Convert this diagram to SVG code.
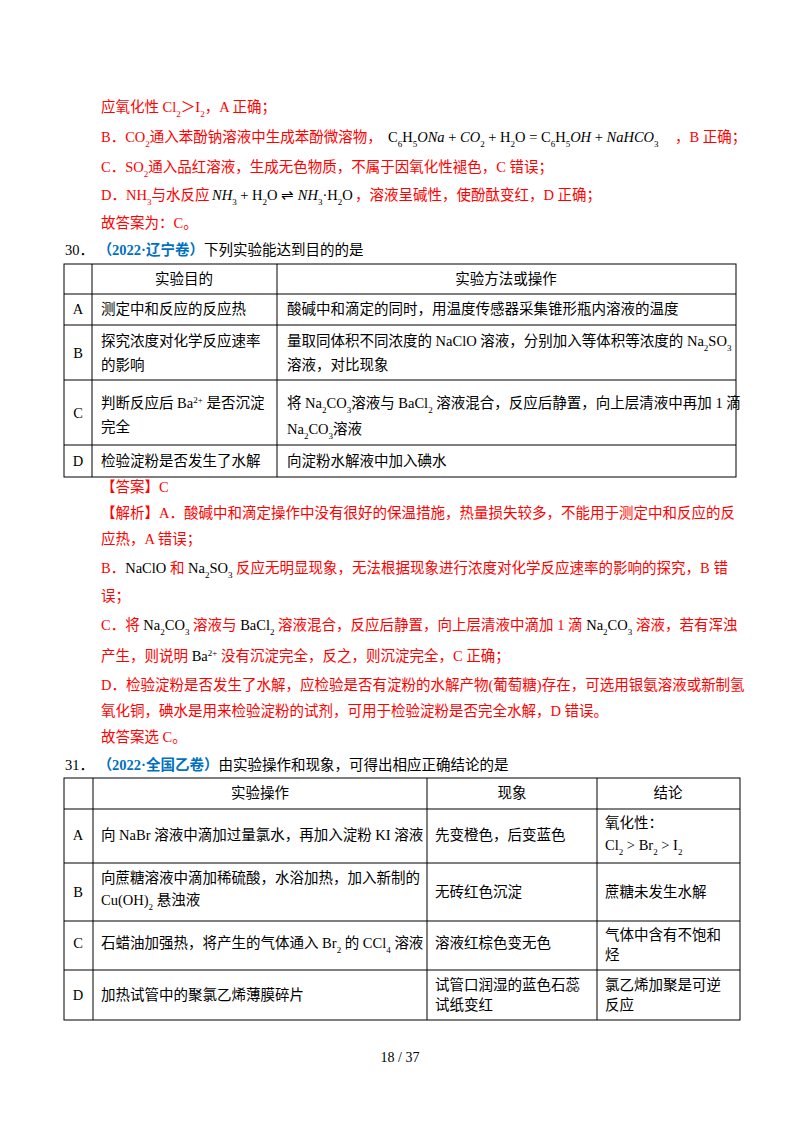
<svg xmlns="http://www.w3.org/2000/svg" width="800" height="1132" viewBox="0 0 800 1132">
<style>
text{font-family:"Liberation Serif","Noto Sans CJK SC",serif;font-size:14.5px;fill:#000}
.r{fill:#ff0000}
.b{fill:#0070c0;font-weight:bold}
.f{font-family:"Liberation Serif",serif;fill:#000}
.i{font-style:italic}
.s{font-size:9px}
.c{text-anchor:middle}
.ln{stroke:#000;stroke-width:1;fill:none}
</style>
<rect width="800" height="1132" fill="#fff"/>
<g id="part29">
<text class="r" x="101" y="112">应氧化性 Cl<tspan class="s" baseline-shift="sub">2</tspan>＞I<tspan class="s" baseline-shift="sub">2</tspan>，A 正确；</text>
<text class="r" x="101" y="142">B．CO<tspan class="s" baseline-shift="sub">2</tspan>通入苯酚钠溶液中生成苯酚微溶物，</text>
<text class="f" x="388" y="142">C<tspan class="s" baseline-shift="sub">6</tspan>H<tspan class="s" baseline-shift="sub">5</tspan><tspan class="i">ONa</tspan> + <tspan class="i">CO</tspan><tspan class="s" baseline-shift="sub">2</tspan> + H<tspan class="s" baseline-shift="sub">2</tspan>O = C<tspan class="s" baseline-shift="sub">6</tspan>H<tspan class="s" baseline-shift="sub">5</tspan><tspan class="i">OH</tspan> + <tspan class="i">NaHCO</tspan><tspan class="s" baseline-shift="sub">3</tspan></text>
<text class="r" x="675" y="142">，B 正确；</text>
<text class="r" x="101" y="172">C．SO<tspan class="s" baseline-shift="sub">2</tspan>通入品红溶液，生成无色物质，不属于因氧化性褪色，C 错误；</text>
<text class="r" x="101" y="200">D．NH<tspan class="s" baseline-shift="sub">3</tspan>与水反应</text>
<text class="f" x="212" y="200"><tspan class="i">NH</tspan><tspan class="s" baseline-shift="sub">3</tspan> + H<tspan class="s" baseline-shift="sub">2</tspan>O ⇌ <tspan class="i">NH</tspan><tspan class="s" baseline-shift="sub">3</tspan>·H<tspan class="s" baseline-shift="sub">2</tspan>O</text>
<text class="r" x="355" y="200">，溶液呈碱性，使酚酞变红，D 正确；</text>
<text class="r" x="101" y="228">故答案为：C。</text>
</g>
<g id="q30">
<text x="65" y="255">30． <tspan class="b">（2022·辽宁卷）</tspan>下列实验能达到目的的是</text>
</g>
<g id="table30">
<rect class="ln" x="64" y="264" width="672" height="213"/>
<path class="ln" d="M92 264V477M277 264V477M64 294H736M64 325H736M64 380H736M64 445H736"/>
<text class="c" x="184" y="284">实验目的</text>
<text class="c" x="506" y="284">实验方法或操作</text>
<text class="c" x="78" y="314">A</text>
<text x="101" y="314">测定中和反应的反应热</text>
<text x="287" y="314">酸碱中和滴定的同时，用温度传感器采集锥形瓶内溶液的温度</text>
<text class="c" x="78" y="358">B</text>
<text x="101" y="346">探究浓度对化学反应速率</text>
<text x="101" y="370">的影响</text>
<text x="287" y="346">量取同体积不同浓度的 NaClO 溶液，分别加入等体积等浓度的 Na<tspan class="s" baseline-shift="sub">2</tspan>SO<tspan class="s" baseline-shift="sub">3</tspan></text>
<text x="287" y="370">溶液，对比现象</text>
<text class="c" x="78" y="418">C</text>
<text x="101" y="408">判断反应后 Ba<tspan class="s" baseline-shift="super">2+</tspan> 是否沉淀</text>
<text x="101" y="432">完全</text>
<text x="287" y="408">将 Na<tspan class="s" baseline-shift="sub">2</tspan>CO<tspan class="s" baseline-shift="sub">3</tspan>溶液与 BaCl<tspan class="s" baseline-shift="sub">2</tspan> 溶液混合，反应后静置，向上层清液中再加 1 滴</text>
<text x="287" y="434">Na<tspan class="s" baseline-shift="sub">2</tspan>CO<tspan class="s" baseline-shift="sub">3</tspan>溶液</text>
<text class="c" x="78" y="466">D</text>
<text x="101" y="466">检验淀粉是否发生了水解</text>
<text x="287" y="466">向淀粉水解液中加入碘水</text>
</g>
<g id="answer30">
<text class="r" x="101" y="492">【答案】C</text>
<text class="r" x="101" y="518">【解析】A．酸碱中和滴定操作中没有很好的保温措施，热量损失较多，不能用于测定中和反应的反</text>
<text class="r" x="101" y="544">应热，A 错误；</text>
<text class="r" x="101" y="573">B．<tspan class="f">NaClO</tspan> 和 <tspan class="f">Na<tspan class="s" baseline-shift="sub">2</tspan>SO<tspan class="s" baseline-shift="sub">3</tspan></tspan> 反应无明显现象，无法根据现象进行浓度对化学反应速率的影响的探究，B 错</text>
<text class="r" x="101" y="601">误；</text>
<text class="r" x="101" y="630">C．将 <tspan class="f">Na<tspan class="s" baseline-shift="sub">2</tspan>CO<tspan class="s" baseline-shift="sub">3</tspan></tspan> 溶液与 <tspan class="f">BaCl<tspan class="s" baseline-shift="sub">2</tspan></tspan> 溶液混合，反应后静置，向上层清液中滴加 1 滴 <tspan class="f">Na<tspan class="s" baseline-shift="sub">2</tspan>CO<tspan class="s" baseline-shift="sub">3</tspan></tspan> 溶液，若有浑浊</text>
<text class="r" x="101" y="661">产生，则说明 <tspan class="f">Ba<tspan class="s" baseline-shift="super">2+</tspan></tspan> 没有沉淀完全，反之，则沉淀完全，C 正确；</text>
<text class="r" x="101" y="690">D．检验淀粉是否发生了水解，应检验是否有淀粉的水解产物(葡萄糖)存在，可选用银氨溶液或新制氢</text>
<text class="r" x="101" y="716">氧化铜，碘水是用来检验淀粉的试剂，可用于检验淀粉是否完全水解，D 错误。</text>
<text class="r" x="101" y="742">故答案选 C。</text>
</g>
<g id="q31">
<text x="65" y="770">31． <tspan class="b">（2022·全国乙卷）</tspan>由实验操作和现象，可得出相应正确结论的是</text>
</g>
<g id="table31">
<rect class="ln" x="64" y="778" width="676" height="242"/>
<path class="ln" d="M93 778V1020M427 778V1020M597 778V1020M64 809H740M64 863H740M64 921H740M64 970H740"/>
<text class="c" x="260" y="798">实验操作</text>
<text class="c" x="512" y="798">现象</text>
<text class="c" x="668" y="798">结论</text>
<text class="c" x="78" y="840">A</text>
<text x="101" y="840">向 NaBr 溶液中滴加过量氯水，再加入淀粉 KI 溶液</text>
<text x="435" y="840">先变橙色，后变蓝色</text>
<text x="605" y="828">氧化性：</text>
<text x="605" y="850">Cl<tspan class="s" baseline-shift="sub">2</tspan> &gt; Br<tspan class="s" baseline-shift="sub">2</tspan> &gt; I<tspan class="s" baseline-shift="sub">2</tspan></text>
<text class="c" x="78" y="897">B</text>
<text x="101" y="883">向蔗糖溶液中滴加稀硫酸，水浴加热，加入新制的</text>
<text x="101" y="905">Cu(OH)<tspan class="s" baseline-shift="sub">2</tspan> 悬浊液</text>
<text x="435" y="897">无砖红色沉淀</text>
<text x="605" y="897">蔗糖未发生水解</text>
<text class="c" x="78" y="948">C</text>
<text x="101" y="948">石蜡油加强热，将产生的气体通入 Br<tspan class="s" baseline-shift="sub">2</tspan> 的 CCl<tspan class="s" baseline-shift="sub">4</tspan> 溶液</text>
<text x="435" y="948">溶液红棕色变无色</text>
<text x="605" y="940">气体中含有不饱和</text>
<text x="605" y="960">烃</text>
<text class="c" x="78" y="1000">D</text>
<text x="101" y="1000">加热试管中的聚氯乙烯薄膜碎片</text>
<text x="435" y="990">试管口润湿的蓝色石蕊</text>
<text x="435" y="1010">试纸变红</text>
<text x="605" y="990">氯乙烯加聚是可逆</text>
<text x="605" y="1010">反应</text>
</g>
<text class="c" x="400" y="1062" style="font-size:14px">18 / 37</text>
</svg>
